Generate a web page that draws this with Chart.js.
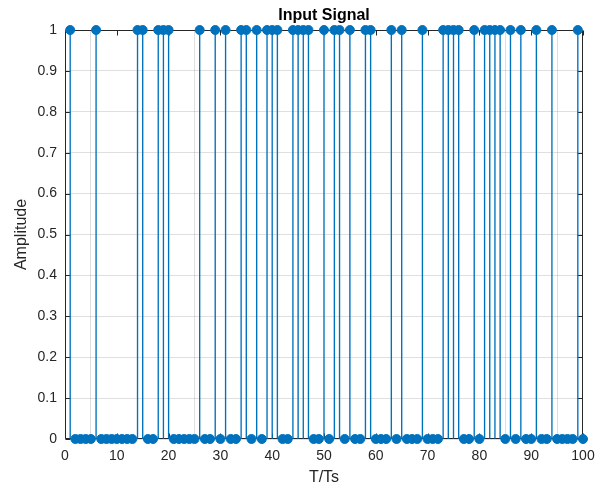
<!DOCTYPE html>
<html>
<head>
<meta charset="utf-8">
<script src="https://cdn.jsdelivr.net/npm/chart.js@4"></script>
<style>
  html, body { margin: 0; padding: 0; background: #fff; }
  canvas { display: block; }
</style>
</head>
<body>
<canvas id="signal-chart" width="597" height="488"></canvas>
<script>
// sample index T/Ts
const timeSteps = [
    1, 2, 3, 4, 5, 6, 7, 8, 9, 10,
    11, 12, 13, 14, 15, 16, 17, 18, 19, 20,
    21, 22, 23, 24, 25, 26, 27, 28, 29, 30,
    31, 32, 33, 34, 35, 36, 37, 38, 39, 40,
    41, 42, 43, 44, 45, 46, 47, 48, 49, 50,
    51, 52, 53, 54, 55, 56, 57, 58, 59, 60,
    61, 62, 63, 64, 65, 66, 67, 68, 69, 70,
    71, 72, 73, 74, 75, 76, 77, 78, 79, 80,
    81, 82, 83, 84, 85, 86, 87, 88, 89, 90,
    91, 92, 93, 94, 95, 96, 97, 98, 99, 100
];

// binary input bits
const signalValues = [
    1, 0, 0, 0, 0, 1, 0, 0, 0, 0,
    0, 0, 0, 1, 1, 0, 0, 1, 1, 1,
    0, 0, 0, 0, 0, 1, 0, 0, 1, 0,
    1, 0, 0, 1, 1, 0, 1, 0, 1, 1,
    1, 0, 0, 1, 1, 1, 1, 0, 0, 1,
    0, 1, 1, 0, 1, 0, 0, 1, 1, 0,
    0, 0, 1, 0, 1, 0, 0, 0, 1, 0,
    0, 0, 1, 1, 1, 1, 0, 0, 1, 0,
    1, 1, 1, 1, 0, 1, 0, 1, 0, 0,
    1, 0, 0, 1, 0, 0, 0, 0, 1, 0
];

const xTickValues = [0, 10, 20, 30, 40, 50, 60, 70, 80, 90, 100];
const xTickLabels = ['0', '10', '20', '30', '40', '50', '60', '70', '80', '90', '100'];
const yTickValues = [0, 0.1, 0.2, 0.3, 0.4, 0.5, 0.6, 0.7, 0.8, 0.9, 1];
const yTickLabels = ['0', '0.1', '0.2', '0.3', '0.4', '0.5', '0.6', '0.7', '0.8', '0.9', '1'];

const stemColor = '#0072BD';
const axisColor = '#262626';
const fontFamily = '"Liberation Sans", Arial, Helvetica, sans-serif';

// matlab style box round the axes, ticks pointing inward
const boxAxes = {
    id: 'boxAxes',
    beforeDatasetsDraw(chart) {
        const { ctx, chartArea, scales } = chart;
        const left = Math.round(chartArea.left) + 0.5;
        const right = Math.round(chartArea.right) - 0.5;
        const top = Math.round(chartArea.top) + 0.5;
        const bottom = Math.round(chartArea.bottom) - 0.5;
        const tickLen = 5;
        ctx.save();
        ctx.strokeStyle = axisColor;
        ctx.lineWidth = 1;
        ctx.beginPath();
        ctx.rect(left, top, right - left, bottom - top);
        scales.x.ticks.forEach(t => {
            const px = Math.round(scales.x.getPixelForValue(t.value)) + 0.5;
            ctx.moveTo(px, bottom);
            ctx.lineTo(px, bottom - tickLen);
            ctx.moveTo(px, top);
            ctx.lineTo(px, top + tickLen);
        });
        scales.y.ticks.forEach(t => {
            const py = Math.round(scales.y.getPixelForValue(t.value)) + 0.5;
            ctx.moveTo(left, py);
            ctx.lineTo(left + tickLen, py);
            ctx.moveTo(right, py);
            ctx.lineTo(right - tickLen, py);
        });
        ctx.stroke();
        ctx.restore();
    }
};

const points = timeSteps.map((t, i) => ({ x: t, y: signalValues[i] }));

new Chart(document.getElementById('signal-chart'), {
    type: 'bar',
    data: {
        datasets: [{
            type: 'bar',
            data: points,
            backgroundColor: stemColor,
            barThickness: 0.7,
            grouped: false,
            order: 2
        }, {
            type: 'scatter',
            data: points,
            pointRadius: 4.5,
            borderWidth: 1,
            backgroundColor: stemColor,
            borderColor: stemColor,
            clip: false,
            order: 1
        }]
    },
    options: {
        responsive: false,
        animation: false,
        events: [],
        layout: {
            padding: { top: 0, right: 14, bottom: 0, left: 0 }
        },
        plugins: {
            legend: { display: false },
            tooltip: { enabled: false },
            title: {
                display: true,
                text: 'Input Signal',
                fullSize: false,
                color: '#000',
                font: { family: fontFamily, size: 16, weight: 'bold' },
                padding: { top: 6, bottom: 4.8 }
            }
        },
        scales: {
            x: {
                type: 'linear',
                min: 0,
                max: 100,
                offset: false,
                afterBuildTicks: scale => {
                    scale.ticks = xTickValues.map(v => ({ value: v }));
                },
                afterFit: scale => {
                    scale.height = 49;
                    scale.paddingRight = 0;
                    scale.paddingLeft = 0;
                },
                grid: {
                    color: 'rgba(38, 38, 38, 0.15)',
                    drawTicks: false
                },
                border: { display: false },
                ticks: {
                    color: axisColor,
                    padding: 9,
                    maxRotation: 0,
                    font: { family: fontFamily, size: 14 },
                    callback: (value, index) => xTickLabels[index]
                },
                title: {
                    display: true,
                    text: 'T/Ts',
                    color: axisColor,
                    font: { family: fontFamily, size: 16 },
                    padding: { top: 0, bottom: 1 }
                }
            },
            y: {
                type: 'linear',
                min: 0,
                max: 1,
                afterBuildTicks: scale => {
                    scale.ticks = yTickValues.map(v => ({ value: v }));
                },
                afterFit: scale => { scale.width = 65; },
                grid: {
                    color: 'rgba(38, 38, 38, 0.15)',
                    drawTicks: false
                },
                border: { display: false },
                ticks: {
                    color: axisColor,
                    padding: 8,
                    font: { family: fontFamily, size: 14 },
                    callback: (value, index) => yTickLabels[index]
                },
                title: {
                    display: true,
                    text: 'Amplitude',
                    color: axisColor,
                    font: { family: fontFamily, size: 16 },
                    padding: { top: 12, bottom: 0 }
                }
            }
        }
    },
    plugins: [boxAxes]
});
</script>
</body>
</html>
